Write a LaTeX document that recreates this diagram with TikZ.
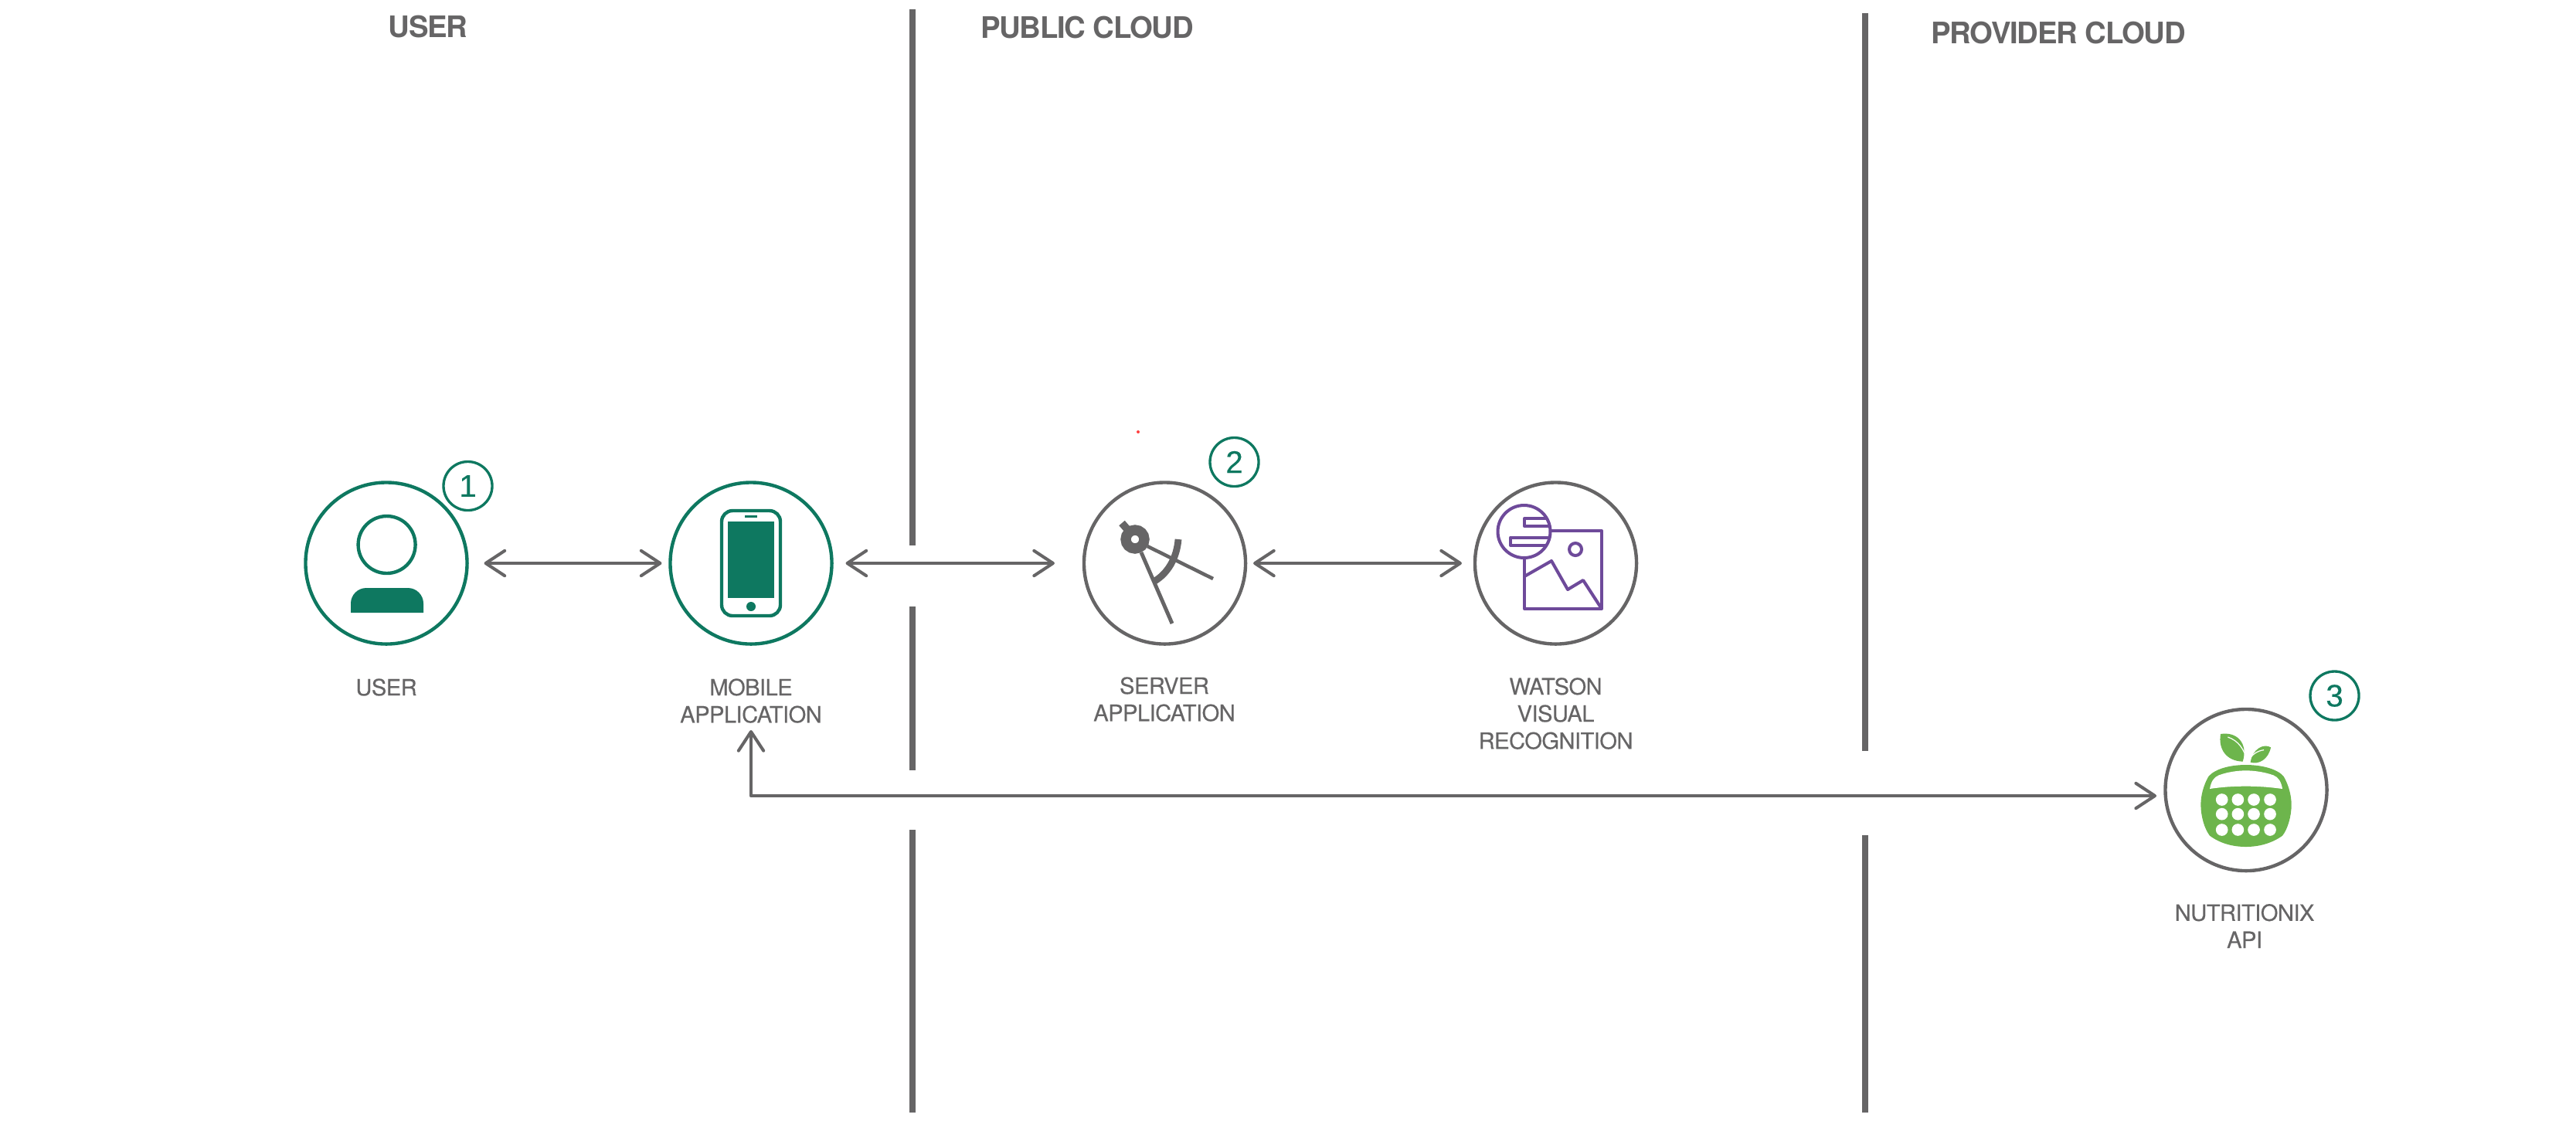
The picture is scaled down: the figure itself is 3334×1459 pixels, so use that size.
\documentclass[tikz,border=0pt]{standalone}
\usepackage{fontspec}
\usetikzlibrary{arrows.meta}
\newfontfamily\labfont[LetterSpace=-2,FakeBold=0.25]{TeX Gyre Heros}
\newfontfamily\headfont[LetterSpace=-3.3]{TeX Gyre Heros}
\newfontfamily\numfont[FakeBold=0.2]{Liberation Sans}
\definecolor{ibmgreen}{HTML}{0E7860}
\definecolor{ibmgrey}{HTML}{666566}
\definecolor{ibmpurple}{HTML}{6E4A9A}
\definecolor{leafgreen}{HTML}{6DB54C}
\tikzset{
  bigcirc/.style={circle,draw=#1,line width=1.25pt,minimum size=209*0.2845pt,inner sep=0pt,outer sep=0pt},
  numcirc/.style={circle,draw=ibmgreen,line width=0.95pt,minimum size=63*0.2845pt,inner sep=0pt,outer sep=0pt,text=ibmgreen,font=\numfont\fontsize{11.5}{12}\selectfont},
  lab/.style={align=center,inner sep=0pt,text=ibmgrey,font=\labfont\fontsize{8.3}{10}\selectfont},
  head/.style={inner sep=0pt,text=ibmgrey,font=\headfont\bfseries\fontsize{10.9}{12}\selectfont},
  divider/.style={draw=ibmgrey,line width=2.3pt},
  conn/.style={draw=ibmgrey,line width=1.2pt,line cap=round,line join=round,{Straight Barb[length=7pt,width=9.2pt,line width=1.15pt,round]}-{Straight Barb[length=7pt,width=9.2pt,line width=1.15pt,round]}},
  purp/.style={draw=ibmpurple,line width=1.15pt,line join=round}
}
\begin{document}
\begin{tikzpicture}[x=0.01cm,y=-0.01cm]
\useasboundingbox (0,0) rectangle (3334,1459);
% dividers
\draw[divider] (1181,12) -- (1181,706);
\draw[divider] (1181,785) -- (1181,997);
\draw[divider] (1181,1074) -- (1181,1440);
\draw[divider] (2414,17) -- (2414,972);
\draw[divider] (2414,1081) -- (2414,1440);
% headers
\node[head] (huser) at (554,35) {USER};
\node[head] (hpublic) at (1407,36) {PUBLIC CLOUD};
\node[head] (hprovider) at (2664,43) {PROVIDER CLOUD};
% main circles
\node[bigcirc=ibmgreen] (user) at (500,729) {};
\node[bigcirc=ibmgreen] (mobile) at (972,729) {};
\node[bigcirc=ibmgrey] (server) at (1507.5,729) {};
\node[bigcirc=ibmgrey] (watson) at (2013.5,729) {};
\node[bigcirc=ibmgrey] (nutri) at (2907,1022.5) {};
% step circles
\node[numcirc] (n1) at (605.5,629) {1};
\node[numcirc] (n2) at (1597.5,598) {2};
\node[numcirc] (n3) at (3021.5,900.5) {3};
% labels
\node[lab] (luser) at (500,889.5) {USER};
\node[lab] (lmobile) at (972,907) {MOBILE\\APPLICATION};
\node[lab] (lserver) at (1507,905) {SERVER\\APPLICATION};
\node[lab] (lwatson) at (2013.5,923.5) {WATSON\\VISUAL\\RECOGNITION};
\node[lab] (lnutri) at (2905,1198.5) {NUTRITIONIX\\API};
% connectors
\draw[conn,shorten <=22pt*0.2845,shorten >=11pt*0.2845] (user) -- (mobile);
\draw[conn,shorten <=18pt*0.2845,shorten >=38pt*0.2845] (mobile) -- (server);
\draw[conn,shorten <=10pt*0.2845,shorten >=17pt*0.2845] (server) -- (watson);
\coordinate (mobtip) at (972,945);
\coordinate (elbow) at (972,1030);
\coordinate (nutritip) at (2791,1030);
\draw[conn] (mobtip) -- (elbow) -- (nutritip);
% user icon
\draw[ibmgreen,line width=1.25pt] (500.6,705) circle [radius=37];
\fill[ibmgreen] (454,793) -- (454,781) .. controls (454,770) and (463,761) .. (474,761) -- (528,761) .. controls (539,761) and (548,770) .. (548,781) -- (548,793) -- cycle;
% phone icon
\draw[ibmgreen,line width=1.25pt,rounded corners=4pt] (934,661) rectangle (1010,797);
\fill[ibmgreen] (942,675) rectangle (1002,774);
\fill[ibmgreen] (964,667) rectangle (980,670);
\fill[ibmgreen] (972,785) circle [radius=6];
% compass icon
\draw[ibmgrey,line width=1.4pt] (1477,715) -- (1517,807);
\draw[ibmgrey,line width=1.3pt] (1485,707) -- (1570,749);
\draw[ibmgrey,line width=2.5pt] (1525,698) .. controls (1523,722) and (1512,742) .. (1493,753);
\draw[ibmgrey,line width=2.8pt] (1452,677) -- (1465,692);
\draw[ibmgrey,line width=3.8pt] (1469,698) circle [radius=12];
\fill[white] (1469,698) circle [radius=4.5];
% watson icon
\draw[purp] (1973,722) -- (1973,788) -- (2073,788) -- (2073,687) -- (2006,687);
\draw[purp] (1973,746) -- (2008,726) -- (2029,763) -- (2049,751) -- (2073,788);
\draw[purp] (2039,711) circle [radius=8];
\draw[purp] (1972.5,688) circle [radius=34];
\begin{scope}
\clip (1972.5,688) circle [radius=34];
\draw[purp] (2020,671) -- (1973,671) -- (1973,681) -- (2020,681);
\draw[purp] (2020,695.5) -- (1955,695.5) -- (1955,706) -- (2020,706);
\end{scope}
% nutritionix icon
\begin{scope}[shift={(2760,850)},scale=1/3]
\fill[leafgreen] (440,420) .. controls (380,420) and (320,435) .. (295,465) .. controls (275,500) and (265,540) .. (265,575) .. controls (265,620) and (280,670) .. (300,695) .. controls (340,725) and (390,738) .. (440,738) .. controls (490,738) and (540,725) .. (582,695) .. controls (602,670) and (617,620) .. (617,575) .. controls (617,540) and (607,500) .. (587,465) .. controls (562,435) and (500,420) .. (440,420) -- cycle;
\fill[white] (300,513) .. controls (305,485) and (315,468) .. (335,460) .. controls (370,447) and (410,442) .. (440,442) .. controls (470,442) and (510,447) .. (547,460) .. controls (567,468) and (577,485) .. (582,513) .. controls (530,506) and (490,503) .. (440,503) .. controls (390,503) and (345,506) .. (300,513) -- cycle;
\foreach \cx in {347,409,471,534}
  \foreach \cy in {555,611,672}
    \fill[white] (\cx,\cy) circle [radius=23.5];
\fill[leafgreen] (342,300) .. controls (405,290) and (450,335) .. (428,407) .. controls (365,405) and (332,360) .. (342,300) -- cycle;
\fill[leafgreen] (458,410) .. controls (465,358) and (510,335) .. (537,352) .. controls (528,398) and (490,420) .. (458,410) -- cycle;
\draw[white,line width=0.35pt] (370,312) .. controls (410,325) and (435,360) .. (445,405);
\draw[white,line width=0.35pt] (510,362) .. controls (485,365) and (462,380) .. (450,405);
\end{scope}
% stray mark
\fill[red!75!white] (1473,559) circle [radius=2];
\end{tikzpicture}
\end{document}
